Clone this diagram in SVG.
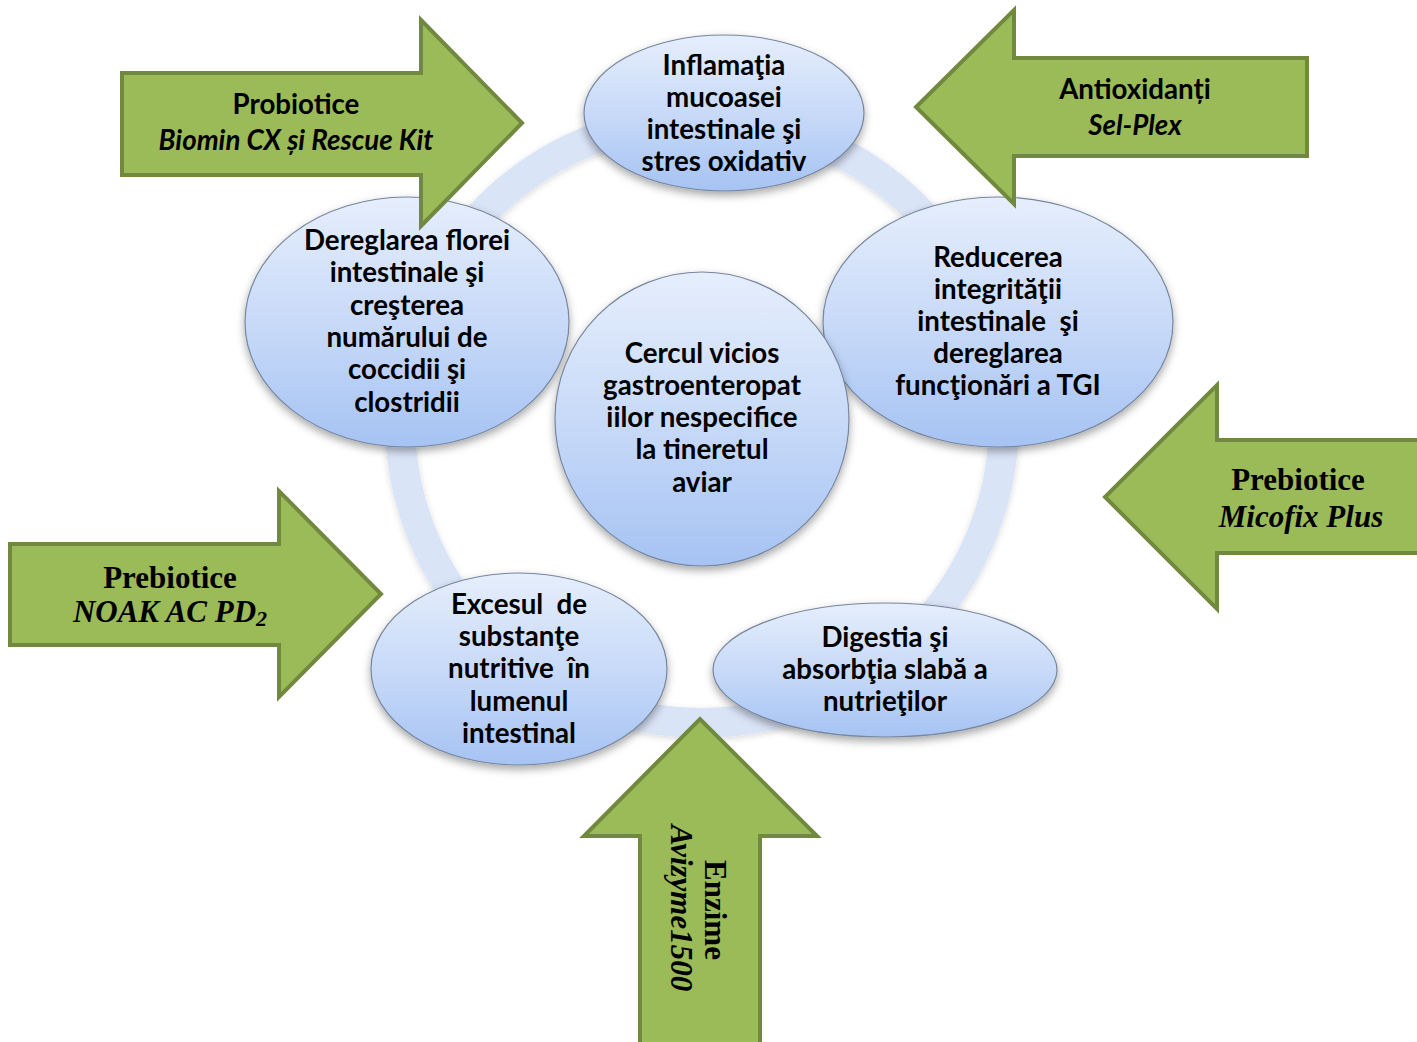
<svg xmlns="http://www.w3.org/2000/svg" width="1417" height="1042" viewBox="0 0 1417 1042">
<defs>
<linearGradient id="eg" x1="0" y1="0" x2="0" y2="1">
<stop offset="0" stop-color="#e6eefc"/>
<stop offset="0.5" stop-color="#c8daf8"/>
<stop offset="1" stop-color="#a6c3f3"/>
</linearGradient>
<filter id="sh" x="-20%" y="-20%" width="140%" height="150%">
<feDropShadow dx="0" dy="4" stdDeviation="4" flood-color="#000" flood-opacity="0.35"/>
</filter>
<filter id="rs" x="-20%" y="-20%" width="140%" height="140%">
<feDropShadow dx="0" dy="2" stdDeviation="3" flood-color="#000" flood-opacity="0.15"/>
</filter>
</defs>
<style>
.node{fill:url(#eg);stroke:#76869e;stroke-width:1.2;filter:url(#sh)}
.t{font-family:Lato,"Liberation Sans",sans-serif;font-weight:bold;font-size:27.7px;fill:#000;text-anchor:middle}
.ti{font-style:italic}
.arr{fill:#9bbb59;stroke:#71893f;stroke-width:4;stroke-linejoin:miter}
.tr{font-family:"Liberation Serif","Times New Roman",serif;font-weight:bold;font-size:31px;fill:#000;text-anchor:middle}
</style>
<rect width="1417" height="1042" fill="#fff"/>
<g id="connectors">
<circle cx="702" cy="421" r="302" fill="none" stroke="#dae4f7" stroke-width="30" filter="url(#rs)"/>
</g>
<g id="n-top">
<ellipse class="node" cx="724" cy="113" rx="140" ry="78"/>
<text class="t" x="724" y="75">Inflamaţia</text>
<text class="t" x="724" y="107">mucoasei</text>
<text class="t" x="724" y="139">intestinale şi</text>
<text class="t" x="724" y="171">stres oxidativ</text>
</g>
<g id="n-right">
<ellipse class="node" cx="998" cy="322" rx="175" ry="125"/>
<text class="t" x="998" y="267">Reducerea</text>
<text class="t" x="998" y="299">integrităţii</text>
<text class="t" x="998" y="331" xml:space="preserve">intestinale  şi</text>
<text class="t" x="998" y="363">dereglarea</text>
<text class="t" x="998" y="395">funcţionări a TGI</text>
</g>
<g id="n-bottomright">
<ellipse class="node" cx="885" cy="670" rx="172" ry="67"/>
<text class="t" x="885" y="647">Digestia şi</text>
<text class="t" x="885" y="679">absorbţia slabă a</text>
<text class="t" x="885" y="711">nutrieţilor</text>
</g>
<g id="n-bottomleft">
<ellipse class="node" cx="519" cy="669" rx="148" ry="96"/>
<text class="t" x="519" y="614" xml:space="preserve">Excesul  de</text>
<text class="t" x="519" y="646">substanţe</text>
<text class="t" x="519" y="678" xml:space="preserve">nutritive  în</text>
<text class="t" x="519" y="711">lumenul</text>
<text class="t" x="519" y="743">intestinal</text>
</g>
<g id="n-left">
<ellipse class="node" cx="407" cy="322" rx="162" ry="125"/>
<text class="t" x="407" y="250">Dereglarea florei</text>
<text class="t" x="407" y="282">intestinale şi</text>
<text class="t" x="407" y="315">creşterea</text>
<text class="t" x="407" y="347">numărului de</text>
<text class="t" x="407" y="379">coccidii şi</text>
<text class="t" x="407" y="412">clostridii</text>
</g>
<g id="n-center">
<circle class="node" cx="702" cy="419" r="147"/>
<text class="t" x="702" y="363">Cercul vicios</text>
<text class="t" x="702" y="395">gastroenteropat</text>
<text class="t" x="702" y="427">iilor nespecifice</text>
<text class="t" x="702" y="459">la tineretul</text>
<text class="t" x="702" y="492">aviar</text>
</g>
<g id="a-probiotice">
<polygon class="arr" points="122,73 421,73 421,20 522,123 421,226 421,175 122,175"/>
<text class="t" x="296" y="114">Probiotice</text>
<text class="t ti" x="296" y="150">Biomin CX și Rescue Kit</text>
</g>
<g id="a-antioxidanti">
<polygon class="arr" points="1307,58 1014,58 1014,10 916,107 1014,204 1014,156 1307,156"/>
<text class="t" x="1135" y="99">Antioxidanți</text>
<text class="t ti" x="1135" y="135">Sel-Plex</text>
</g>
<g id="a-micofix">
<polygon class="arr" points="1420,440 1217,440 1217,385 1105,497 1217,609 1217,553 1420,553"/>
<text class="tr" x="1298" y="490">Prebiotice</text>
<text class="tr ti" x="1301" y="527">Micofix Plus</text>
</g>
<g id="a-noak">
<polygon class="arr" points="10,544 279,544 279,491 381,594 279,697 279,645 10,645"/>
<text class="tr" x="170" y="588">Prebiotice</text>
<text class="tr ti" x="170" y="622">NOAK AC PD<tspan font-size="22" dy="4">2</tspan></text>
</g>
<g id="a-enzime">
<polygon class="arr" points="640,1046 640,836 584,836 700,719 817,836 760,836 760,1046"/>
<text class="tr" transform="translate(705,910) rotate(90)">Enzime</text>
<text class="tr ti" transform="translate(671,908) rotate(90)">Avizyme1500</text>
</g>
</svg>
